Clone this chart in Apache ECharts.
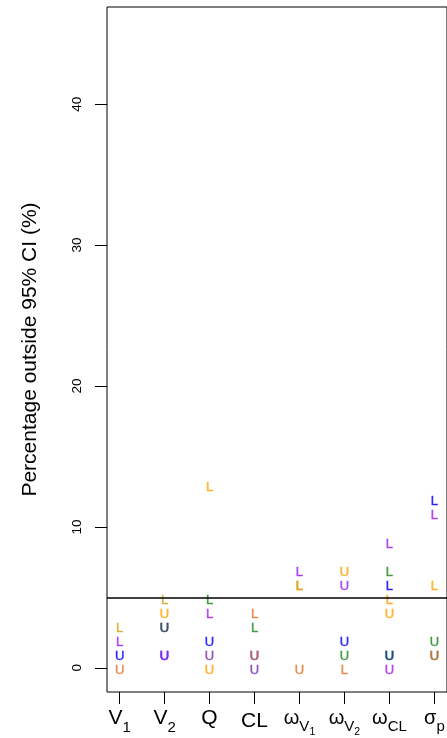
<!DOCTYPE html>
<html>
<head>
<meta charset="utf-8">
<script src="https://cdn.jsdelivr.net/npm/echarts@6/dist/echarts.min.js"></script>
<style>
html,body{margin:0;padding:0;background:#fff;}
#chart{width:447px;height:738px;}
</style>
</head>
<body>
<div id="chart"></div>
<script>
// Parameter labels (rich-text, with subscripts)
var xLabels = ['{m|V}{s|1}', '{m|V}{s|2}', '{m|Q}', '{c|CL}',
  '{w|\u03c9}{ws|V}{wss|1}', '{w|\u03c9}{ws|V}{wss|2}', '{w|\u03c9}{ws|CL}', '{w|\u03c3}{ws|p}'];
var xPositions = [1, 2, 3, 4, 5, 6, 7, 8];
var yTicks = [0, 10, 20, 30, 40];
var refLine = 5;

// Percentage of runs where the true value lies outside 95% CI
// L = below lower limit, U = above upper limit (null = not shown)
var orangeL    = [null, null, 13, null, 6, null, 5, 6];
var orangeU    = [null, 4, 0, null, null, 7, 4, null];
var goldL      = [3, 5, null, null, 6, null, null, null];
var goldU      = [null, null, null, null, null, null, null, null];
var blueL      = [null, null, null, null, null, null, 6, 12];
var blueU      = [1, 1, 2, 1, null, 2, 1, null];
var purpleL    = [2, null, 4, null, 7, null, 9, 11];
var purpleU    = [null, 1, null, null, null, 6, 0, null];
var dpurpleL   = [null, null, null, null, null, null, null, null];
var dpurpleU   = [null, 3, 1, 0, null, null, null, null];
var greenL     = [null, null, 5, 3, null, null, 7, null];
var greenU     = [null, null, null, null, null, 1, null, 2];
var tealL      = [null, null, null, null, null, null, null, null];
var tealU      = [null, 3, null, null, null, null, 1, 1];
var chocL      = [null, null, null, 4, null, 0, null, null];
var chocU      = [0, null, null, 1, 0, null, null, 1];

var groups = [
  {L: orangeL,  U: orangeU,  color: '#FFA500'},
  {L: goldL,    U: goldU,    color: '#DAA520'},
  {L: blueL,    U: blueU,    color: '#0000FF'},
  {L: purpleL,  U: purpleU,  color: '#A020F0'},
  {L: dpurpleL, U: dpurpleU, color: '#7D2FB0'},
  {L: greenL,   U: greenU,   color: '#228B22'},
  {L: tealL,    U: tealU,    color: '#1D5E4C'},
  {L: chocL,    U: chocU,    color: '#E0782F'}
];

var FONT = 'Liberation Sans, Arial, Helvetica, sans-serif';

function mk(vals, letter, color) {
  var data = [];
  vals.forEach(function (v, i) { if (v !== null) data.push([xPositions[i], v]); });
  return {
    type: 'scatter',
    data: data,
    symbol: 'circle',
    symbolSize: 2,
    itemStyle: {color: 'rgba(0,0,0,0)'},
    silent: true,
    label: {
      show: true,
      position: 'inside',
      formatter: letter,
      color: color,
      fontSize: 13,
      fontFamily: FONT,
      textBorderColor: color,
      textBorderWidth: 0.4,
      offset: [0, 3]
    },
    emphasis: {disabled: true}
  };
}

var series = [];
groups.forEach(function (g) {
  series.push(mk(g.L, 'L', g.color));
  series.push(mk(g.U, 'U', g.color));
});
series[0].markLine = {
  silent: true,
  symbol: 'none',
  label: {show: false},
  lineStyle: {color: '#000', width: 1.5, type: 'solid'},
  data: [{yAxis: refLine}]
};

var chart = echarts.init(document.getElementById('chart'), null, {renderer: 'canvas'});
chart.setOption({
  animation: false,
  backgroundColor: '#fff',
  grid: {
    left: 107, top: 7, width: 340, height: 685,
    show: true, borderColor: '#000', borderWidth: 1, backgroundColor: 'transparent',
    containLabel: false, outerBoundsMode: 'none'
  },
  xAxis: {
    type: 'value',
    min: 0.72, max: 8.28,
    axisLine: {show: false, onZero: false},
    splitLine: {show: false},
    axisTick: {show: true, customValues: xPositions, length: 12, inside: false,
      lineStyle: {color: '#000', width: 1}},
    axisLabel: {
      show: true,
      customValues: xPositions,
      margin: 10,
      color: '#000',
      fontFamily: FONT,
      formatter: function (v) { return xLabels[Math.round(v) - 1]; },
      rich: {
        m:   {fontSize: 21, lineHeight: 21, fontFamily: FONT, color: '#000', verticalAlign: 'top', padding: [6, 0, 0, 0]},
        c:   {fontSize: 21, lineHeight: 21, fontFamily: FONT, color: '#000', verticalAlign: 'top', padding: [9, 0, 0, 0]},
        s:   {fontSize: 15, lineHeight: 15, fontFamily: FONT, color: '#000', verticalAlign: 'top', padding: [18, 0, 0, 0]},
        w:   {fontSize: 20, lineHeight: 20, fontFamily: FONT, color: '#000', verticalAlign: 'top', padding: [6, 0, 0, 0]},
        ws:  {fontSize: 15, lineHeight: 15, fontFamily: FONT, color: '#000', verticalAlign: 'top', padding: [17, 0, 0, 0]},
        wss: {fontSize: 10.5, lineHeight: 10.5, fontFamily: FONT, color: '#000', verticalAlign: 'top', padding: [25, 0, 0, 0]}
      }
    }
  },
  yAxis: {
    type: 'value',
    min: -1.72, max: 46.9,
    name: 'Percentage outside 95% CI (%)',
    nameLocation: 'middle',
    nameRotate: 90,
    nameGap: 66,
    nameTextStyle: {fontSize: 21, color: '#000', fontFamily: FONT},
    axisLine: {show: false, onZero: false},
    splitLine: {show: false},
    axisTick: {show: true, customValues: yTicks, length: 12, inside: false,
      lineStyle: {color: '#000', width: 1}},
    axisLabel: {
      show: true,
      customValues: yTicks,
      rotate: 90,
      margin: 23,
      fontSize: 13.5,
      color: '#000',
      fontFamily: FONT
    }
  },
  series: series
});
</script>
</body>
</html>
